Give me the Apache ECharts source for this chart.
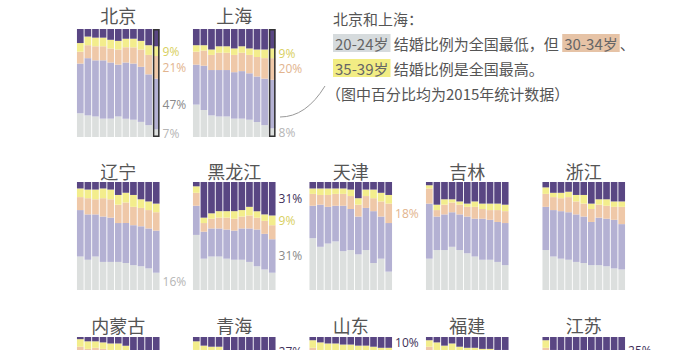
<!DOCTYPE html>
<html><head><meta charset="utf-8">
<script src="https://cdn.jsdelivr.net/npm/echarts@6/dist/echarts.min.js"></script>
<style>html,body{margin:0;padding:0;background:#fff}#c{width:700px;height:350px}</style>
</head><body><div id="c"></div>
<script>
// ---- data ----
const years = ['2005','2006','2007','2008','2009','2010','2011','2012','2013','2014','2015'];
const ageGroups = ['20-24岁','25-29岁','30-34岁','35-39岁','40岁及以上'];
const provinces = ['北京','上海','辽宁','黑龙江','天津','吉林','浙江','内蒙古','青海','山东','福建','江苏'];

// rows: 20-24, 25-29, 30-34, 35-39, 40+ (percent)
const beijing = [
  [22,20,19,17,17,19,17,16,14,11,7],
  [46,53,52,54,52,48,52,52,51,47,47],
  [11,12,13,13,13,14,14,15,16,18,21],
  [8,8,8,8,8,8,8,8,8,9,9],
  [13,7,8,8,10,11,9,9,11,15,16]
];
const shanghai = [
  [30,25,20,19,19,17,17,16,14,11,8],
  [37,41,42,43,43,43,44,43,42,43,45],
  [12,14,14,16,16,16,17,17,18,19,20],
  [6,5,5,6,6,6,6,6,7,8,9],
  [15,15,19,16,16,18,16,18,19,19,18]
];
const liaoning = [
  [31,28,31,26,26,26,25,23,22,20,16],
  [43,42,39,42,41,36,37,37,37,37,39],
  [12,15,14,17,17,17,19,17,17,17,17],
  [8,8,9,9,9,9,9,11,8,8,8],
  [6,7,7,6,7,12,10,12,16,18,20]
];
const heilongjiang = [
  [51,29,31,31,29,28,28,26,22,19,16],
  [27,25,26,26,27,27,29,31,34,33,31],
  [12,8,9,10,11,11,11,12,11,12,13],
  [6,5,5,6,6,7,6,8,6,6,9],
  [4,33,29,27,27,27,26,23,27,30,31]
];
const tianjin = [
  [48,40,43,45,36,37,33,37,25,29,17],
  [30,39,34,33,42,38,35,39,48,39,45],
  [11,9,11,11,11,12,11,11,12,14,18],
  [5,6,6,5,5,6,6,6,8,8,8],
  [6,6,6,6,6,7,15,7,7,10,12]
];
const jilin = [
  [29,37,37,40,37,34,31,28,28,26,23],
  [51,31,33,32,33,34,35,38,37,37,39],
  [14,6,9,9,9,9,11,9,9,11,11],
  [3,5,5,3,3,3,5,5,6,6,6],
  [3,21,16,16,18,20,18,20,20,20,21]
];
const zhejiang = [
  [37,31,29,28,26,25,23,23,22,20,19],
  [40,43,44,44,44,43,40,44,44,45,42],
  [12,12,12,14,12,12,12,12,12,12,16],
  [6,4,5,5,6,8,5,5,6,5,5],
  [5,10,10,9,12,12,20,16,16,18,18]
];
const neimenggu = [
  [38,36,34,33,32,30,28,26,24,22,19],
  [40,40,43,42,42,44,44,41,41,41,42],
  [13,13,13,14,14,14,14,14,15,15,16],
  [7,7,6,6,6,6,6,6,6,7,7],
  [2,4,4,5,6,6,8,13,14,15,16]
];
const qinghai = [
  [40,38,37,36,34,32,30,28,26,24,22],
  [36,35,35,36,33,33,33,32,32,32,31],
  [12,12,12,12,12,12,12,13,13,13,13],
  [8,7,7,7,7,7,7,7,7,7,7],
  [4,8,9,9,14,16,18,20,22,24,27]
];
const shandong = [
  [40,38,36,34,33,31,29,27,25,23,21],
  [37,37,37,39,39,39,40,42,42,43,44],
  [13,13,14,14,14,15,15,15,16,16,17],
  [7,7,7,7,7,8,8,8,8,8,8],
  [3,5,6,6,7,7,8,8,9,10,10]
];
const fujian = [
  [38,36,35,33,31,30,28,26,24,22,20],
  [40,39,38,40,39,39,40,41,43,43,44],
  [13,13,13,14,14,14,15,15,15,16,16],
  [6,7,6,7,7,7,7,7,7,7,8],
  [3,5,8,6,9,10,10,11,11,12,12]
];
const jiangsu = [
  [36,34,32,31,29,27,26,24,22,20,18],
  [41,36,36,36,36,36,36,37,37,37,36],
  [13,12,12,12,13,13,13,13,13,14,14],
  [7,6,6,6,6,6,6,6,6,6,7],
  [3,12,14,15,16,18,19,20,22,23,25]
];
const panelData = [beijing, shanghai, liaoning, heilongjiang, tianjin, jilin, zhejiang,
                   neimenggu, qinghai, shandong, fujian, jiangsu];
// which age groups are labelled on the 2015 bar
const labelled = [[3,2,1,0],[3,2,0],[0],[4,3,1],[2],[],[],[],[4],[4],[],[4]];
const outlined = ['北京','上海'];

// ---- layout / style ----
const panelCol = [0,1,0,1,2,3,4,0,1,2,3,4];
const panelRow = [0,0,1,1,1,1,1,2,2,2,2,2];
const colX = [76.5,192.5,309,425.5,542];
const rowY = [29,182,337];
const titleY = [15,171,325];
const panelW = 83.5, panelH = 108;
const colors = ['#dcdfde','#b4b1d3','#efc8a8','#f3ed8c','#594683'];
const labelColors = ['#b5b5b5','#8a8a8a','#e2b48e','#d8cf60','#3e3058'];

const grid = [], xAxis = [], yAxis = [], series = [], graphic = [];
provinces.forEach((name, p) => {
  const c = panelCol[p], r = panelRow[p];
  grid.push({left: colX[c], top: rowY[r], width: panelW, height: panelH,
             outerBoundsMode:'none', containLabel:false});
  xAxis.push({type:'category', gridIndex:p, data:years, show:false});
  yAxis.push({type:'value', gridIndex:p, min:0, max:100, show:false});
  panelData[p].forEach((vals, k) => {
    series.push({
      type:'bar', xAxisIndex:p, yAxisIndex:p, stack:'s'+p, name:ageGroups[k],
      barCategoryGap:'12%', barGap:'-100%', silent:true, animation:false,
      itemStyle:{color:colors[k]},
      data: vals.map((v,i) => (i === vals.length-1 && labelled[p].includes(k)) ? {
        value:v,
        label:{show:true, position:'right', distance:3, formatter:'{c}%',
               color:labelColors[k], fontSize:12, fontFamily:'Open Sans'}
      } : v)
    });
  });
  if (outlined.includes(name)) {
    series.push({
      type:'bar', xAxisIndex:p, yAxisIndex:p, barCategoryGap:'12%', barGap:'-100%',
      silent:true, animation:false, z:5,
      itemStyle:{color:'rgba(0,0,0,0)', borderColor:'#333', borderWidth:1.5},
      data: years.map((y,i) => i === years.length-1 ? 100 : '-')
    });
  }
  graphic.push({type:'text', x: colX[c] + panelW/2, y: titleY[r],
    style:{text:name, textAlign:'center', textVerticalAlign:'middle', align:'center', verticalAlign:'middle',
           font:'18px "Noto Sans CJK SC"', fill:'#555'}});
});

// annotation
const noteFont = '15px "Noto Sans CJK SC"';
const rich = {
  g:{backgroundColor:'#d6dbdd', padding:[2,2,1,2], font:noteFont, fill:'#666'},
  p:{backgroundColor:'#e6c3a6', padding:[2,2,1,2], font:noteFont, fill:'#666'},
  y:{backgroundColor:'#f2ed84', padding:[2,2,1,2], font:noteFont, fill:'#666'}
};
const noteLines = [
  ['北京和上海：', 333, 18],
  ['{g|20-24岁} 结婚比例为全国最低，但 {p|30-34岁}、', 333, 43],
  ['{y|35-39岁} 结婚比例是全国最高。', 333, 68],
  ['（图中百分比均为2015年统计数据）', 326, 93]
];
noteLines.forEach(([t,x,y]) => graphic.push({type:'text', x, y,
  style:{text:t, rich, textAlign:'left', textVerticalAlign:'middle', align:'left', verticalAlign:'middle',
         font:noteFont, fill:'#555'}}));
graphic.push({type:'bezierCurve', shape:{x1:280, y1:117, cpx1:306, cpy1:117, x2:325, y2:86},
  style:{stroke:'#999', lineWidth:1, fill:null}});

const chart = echarts.init(document.getElementById('c'), null, {renderer:'svg'});
chart.setOption({animation:false, grid, xAxis, yAxis, series, graphic});
</script></body></html>
